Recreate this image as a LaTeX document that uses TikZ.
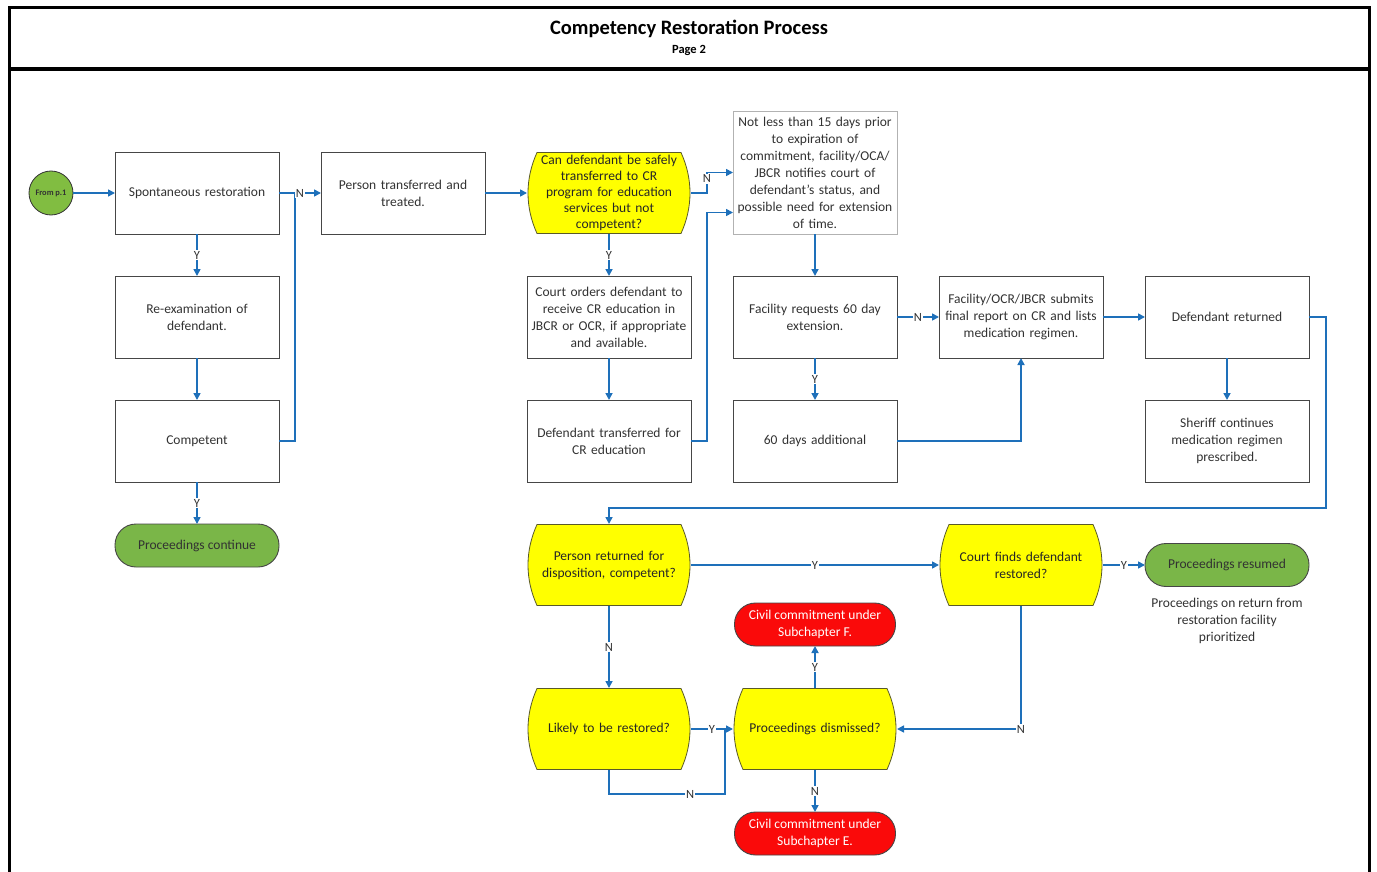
\documentclass[tikz,border=0pt]{standalone}
\usepackage{fontspec}
\setmainfont{Carlito}
\usepackage{tikz}
\usetikzlibrary{calc,positioning,arrows.meta}
\definecolor{flowblue}{RGB}{30,112,186}
\definecolor{boxedge}{RGB}{70,70,70}
\definecolor{boxtext}{RGB}{50,50,50}
\definecolor{termgreen}{RGB}{122,182,72}
\definecolor{termred}{RGB}{250,10,10}
\definecolor{decyellow}{RGB}{255,255,0}
\definecolor{decedge}{RGB}{90,90,40}

\begin{document}
\begin{tikzpicture}[x=1pt,y=-1pt,node distance=42pt,
    font=\fontsize{13.5}{17}\selectfont,text=boxtext,
    box/.style={draw=boxedge,line width=0.9pt,minimum width=164pt,minimum height=82pt,
        text width=158pt,align=center,inner sep=2pt,outer sep=0pt},
    notebox/.style={box,draw=gray!60,minimum height=123pt},
    term/.style={draw=boxedge,line width=0.9pt,fill=termgreen,rounded corners=21pt,
        minimum width=164pt,minimum height=43pt,align=center,inner sep=2pt,outer sep=0pt},
    redterm/.style={term,fill=termred,text=white,minimum width=161pt},
    decision/.style={fill=white,minimum width=164pt,minimum height=82pt,text width=150pt,
        align=center,inner sep=1pt,outer sep=0pt,text=black!85,path picture={
            \filldraw[fill=decyellow,draw=decedge,line width=0.8pt]
            ([xshift=10pt,yshift=-0.5pt]path picture bounding box.north west)
            -- ([xshift=-10pt,yshift=-0.5pt]path picture bounding box.north east)
            .. controls ([xshift=2pt,yshift=14pt]path picture bounding box.east)
            and ([xshift=2pt,yshift=-14pt]path picture bounding box.east) ..
            ([xshift=-10pt,yshift=0.5pt]path picture bounding box.south east)
            -- ([xshift=10pt,yshift=0.5pt]path picture bounding box.south west)
            .. controls ([xshift=-2pt,yshift=-14pt]path picture bounding box.west)
            and ([xshift=-2pt,yshift=14pt]path picture bounding box.west) ..
            ([xshift=10pt,yshift=-0.5pt]path picture bounding box.north west) -- cycle;
        }},
    lbl/.style={fill=white,inner sep=1pt,font=\fontsize{12.5}{13}\selectfont,text=boxtext},
    arr/.style={draw=flowblue,line width=1.6pt,-{Triangle[length=7pt,width=7pt]}},
    line/.style={draw=flowblue,line width=1.6pt}]
    \useasboundingbox (0,0) rectangle (1377,872);
    \draw[line width=3pt] (9,872) -- (9,8) -- (1369,8) -- (1369,872);
    \draw[line width=4pt] (9,69) -- (1369,69);
    \node[font=\fontsize{20.5}{22}\selectfont\bfseries,text=black] (title) at (689,29) {Competency Restoration Process};
    \node[font=\fontsize{12.5}{13}\selectfont\bfseries,text=black,below=0pt of title] (page) {Page 2};
    %
    \node[circle,draw=black!80,line width=0.8pt,fill=termgreen!90!lime,minimum size=44pt,inner sep=0pt,
        outer sep=0pt,font=\fontsize{8.4}{9}\selectfont\bfseries] (fromp) at (51,193) {From p.1};
    \node[box,right=42pt of fromp] (spont) {Spontaneous restoration};
    \node[box,below=of spont] (reexam) {Re-examination of\\ defendant.};
    \node[box,below=of reexam] (comp) {Competent};
    \node[term,below=of comp] (contin) {Proceedings continue};
    \node[box,right=of spont] (transf) {Person transferred and\\ treated.};
    \node[decision,font=\fontsize{13.5}{16.2}\selectfont,right=of transf] (candef) {Can defendant be safely\\ transferred to CR\\ program for education\\ services but not\\ competent?};
    \node[box,below=of candef] (orders) {Court orders defendant to\\ receive CR education in\\ JBCR or OCR, if appropriate\\ and available.};
    \node[box,below=of orders] (deftrans) {Defendant transferred for\\ CR education};
    \node[box,right=of orders] (facreq) {Facility requests 60 day\\ extension.};
    \node[notebox,above=of facreq] (notless) {Not less than 15 days prior\\ to expiration of\\ commitment, facility/OCA/\\ JBCR notifies court of\\ defendant’s status, and\\ possible need for extension\\ of time.};
    \node[box,below=of facreq] (sixty) {60 days additional};
    \node[box,right=of facreq] (submit) {Facility/OCR/JBCR submits\\ final report on CR and lists\\ medication regimen.};
    \node[box,right=of submit] (returned) {Defendant returned};
    \node[box,below=of returned] (sheriff) {Sheriff continues\\ medication regimen\\ prescribed.};
    \node[decision,below=of deftrans] (persret) {Person returned for\\ disposition, competent?};
    \node[decision] (courtfinds) at (submit |- persret) {Court finds defendant\\ restored?};
    \node[term,right=of courtfinds] (resumed) {Proceedings resumed};
    \node[below=8pt of resumed,align=center] (prior) {Proceedings on return from\\ restoration facility\\ prioritized};
    \node[decision,below=82pt of persret] (likely) {Likely to be restored?};
    \node[decision,right=of likely] (dismiss) {Proceedings dismissed?};
    \node[redterm,above=of dismiss] (civF) {Civil commitment under\\ Subchapter F.};
    \node[redterm,below=of dismiss] (civE) {Civil commitment under\\ Subchapter E.};
    %
    \coordinate (jn1) at ($(spont.east)+(16pt,0pt)$);
    \coordinate (jn2) at ($(dismiss.west)+(-8pt,0pt)$);
    \coordinate (loop) at ($(persret.north)+(0pt,16pt)$);
    \draw[arr] (fromp) -- (spont);
    \draw[arr] (spont) -- node[lbl]{Y} (reexam);
    \draw[arr] (reexam) -- (comp);
    \draw[arr] (comp) -- node[lbl]{Y} (contin);
    \draw[line] (comp.east) -| (jn1);
    \draw[arr] (spont) -- node[lbl]{N} (transf);
    \draw[arr] (transf) -- (candef);
    \draw[arr] (candef.east) -- ++(16pt,0pt) |- node[lbl,pos=0.35]{N} (notless.west);
    \draw[arr] (candef) -- node[lbl]{Y} (orders);
    \draw[arr] (orders) -- (deftrans);
    \draw[arr] (deftrans.east) -- ++(16pt,0pt) |- ([yshift=-40pt]notless.west);
    \draw[arr] (notless) -- (facreq);
    \draw[arr] (facreq) -- node[lbl]{N} (submit);
    \draw[arr] (facreq) -- node[lbl]{Y} (sixty);
    \draw[arr] (sixty.east) -| (submit.south);
    \draw[arr] (submit) -- (returned);
    \draw[arr] (returned) -- (sheriff);
    \draw[arr] (returned.east) -- ++(17pt,0pt) |- (loop) -- (persret.north);
    \draw[arr] (persret) -- node[lbl]{Y} (courtfinds);
    \draw[arr] (courtfinds) -- node[lbl]{Y} (resumed);
    \draw[arr] (persret) -- node[lbl]{N} (likely);
    \draw[arr] (likely) -- node[lbl]{Y} (dismiss);
    \draw[line] (likely.south) -- ++(0pt,-24pt) -| node[lbl,pos=0.35]{N} (jn2);
    \draw[arr] (dismiss) -- node[lbl]{Y} (civF);
    \draw[arr] (dismiss) -- node[lbl]{N} (civE);
    \draw[arr] (courtfinds.south) |- node[lbl,pos=0.5]{N} (dismiss.east);
\end{tikzpicture}
\end{document}
